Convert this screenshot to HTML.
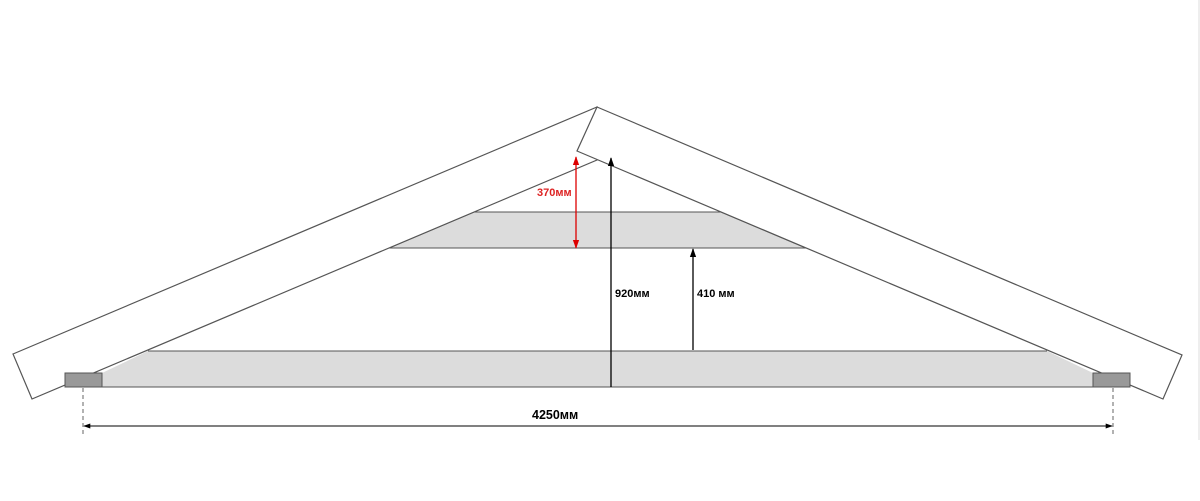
<!DOCTYPE html>
<html><head><meta charset="utf-8"><style>
html,body{margin:0;padding:0;background:#fff;}
svg{display:block;}
text{font-family:"Liberation Sans",Arial,sans-serif;font-weight:bold;}
</style></head><body>
<svg width="1200" height="501" viewBox="0 0 1200 501" xmlns="http://www.w3.org/2000/svg">
<defs>
<marker id="ab" viewBox="0 0 10 10" refX="9" refY="5" markerWidth="7" markerHeight="7" orient="auto-start-reverse"><path d="M0,1.5 L10,5 L0,8.5 z" fill="#000"/></marker>
<marker id="ar" viewBox="0 0 10 10" refX="9" refY="5" markerWidth="7" markerHeight="7" orient="auto-start-reverse"><path d="M0,1.5 L10,5 L0,8.5 z" fill="#d00"/></marker>
</defs>
<line x1="1199" y1="0" x2="1199" y2="440" stroke="#ddd" stroke-width="1"/>
<!-- shaded bands -->
<polygon points="148,351 1047,351 1093,373 1093,387 102,387 102,373" fill="#dcdcdc"/>
<polygon points="474,212 721,212 806,248 389,248" fill="#dcdcdc" stroke="#555" stroke-width="1"/>
<line x1="148" y1="351" x2="1047" y2="351" stroke="#555"/>
<line x1="102" y1="387" x2="1093" y2="387" stroke="#555"/>
<!-- left rafter -->
<polygon points="13,354 597,107 597,160 32,399" fill="#fff" stroke="#555" stroke-width="1.2"/>
<!-- right rafter -->
<polygon points="597,107 1182,355 1163,399 577,151" fill="#fff" stroke="#555" stroke-width="1.2"/>
<!-- plates -->
<rect x="65" y="373" width="37" height="14" fill="#999" stroke="#555"/>
<rect x="1093" y="373" width="37" height="14" fill="#999" stroke="#555"/>
<!-- dims -->
<line x1="83" y1="388" x2="83" y2="436" stroke="#666" stroke-dasharray="4,3"/>
<line x1="1113" y1="388" x2="1113" y2="436" stroke="#666" stroke-dasharray="4,3"/>
<line x1="84" y1="426" x2="1112" y2="426" stroke="#000" marker-start="url(#ab)" marker-end="url(#ab)"/>
<text x="532" y="419" font-size="12.5">4250мм</text>
<line x1="611" y1="387" x2="611" y2="158" stroke="#000" stroke-width="1.3" marker-end="url(#ab)"/>
<text x="615" y="297" font-size="11">920мм</text>
<line x1="693" y1="350" x2="693" y2="249" stroke="#000" stroke-width="1.3" marker-end="url(#ab)"/>
<text x="697" y="297" font-size="11">410 мм</text>
<line x1="576" y1="157" x2="576" y2="248" stroke="#d00" stroke-width="1.3" marker-start="url(#ar)" marker-end="url(#ar)"/>
<text x="537" y="196" font-size="11" fill="#d22">370мм</text>
</svg>
</body></html>
